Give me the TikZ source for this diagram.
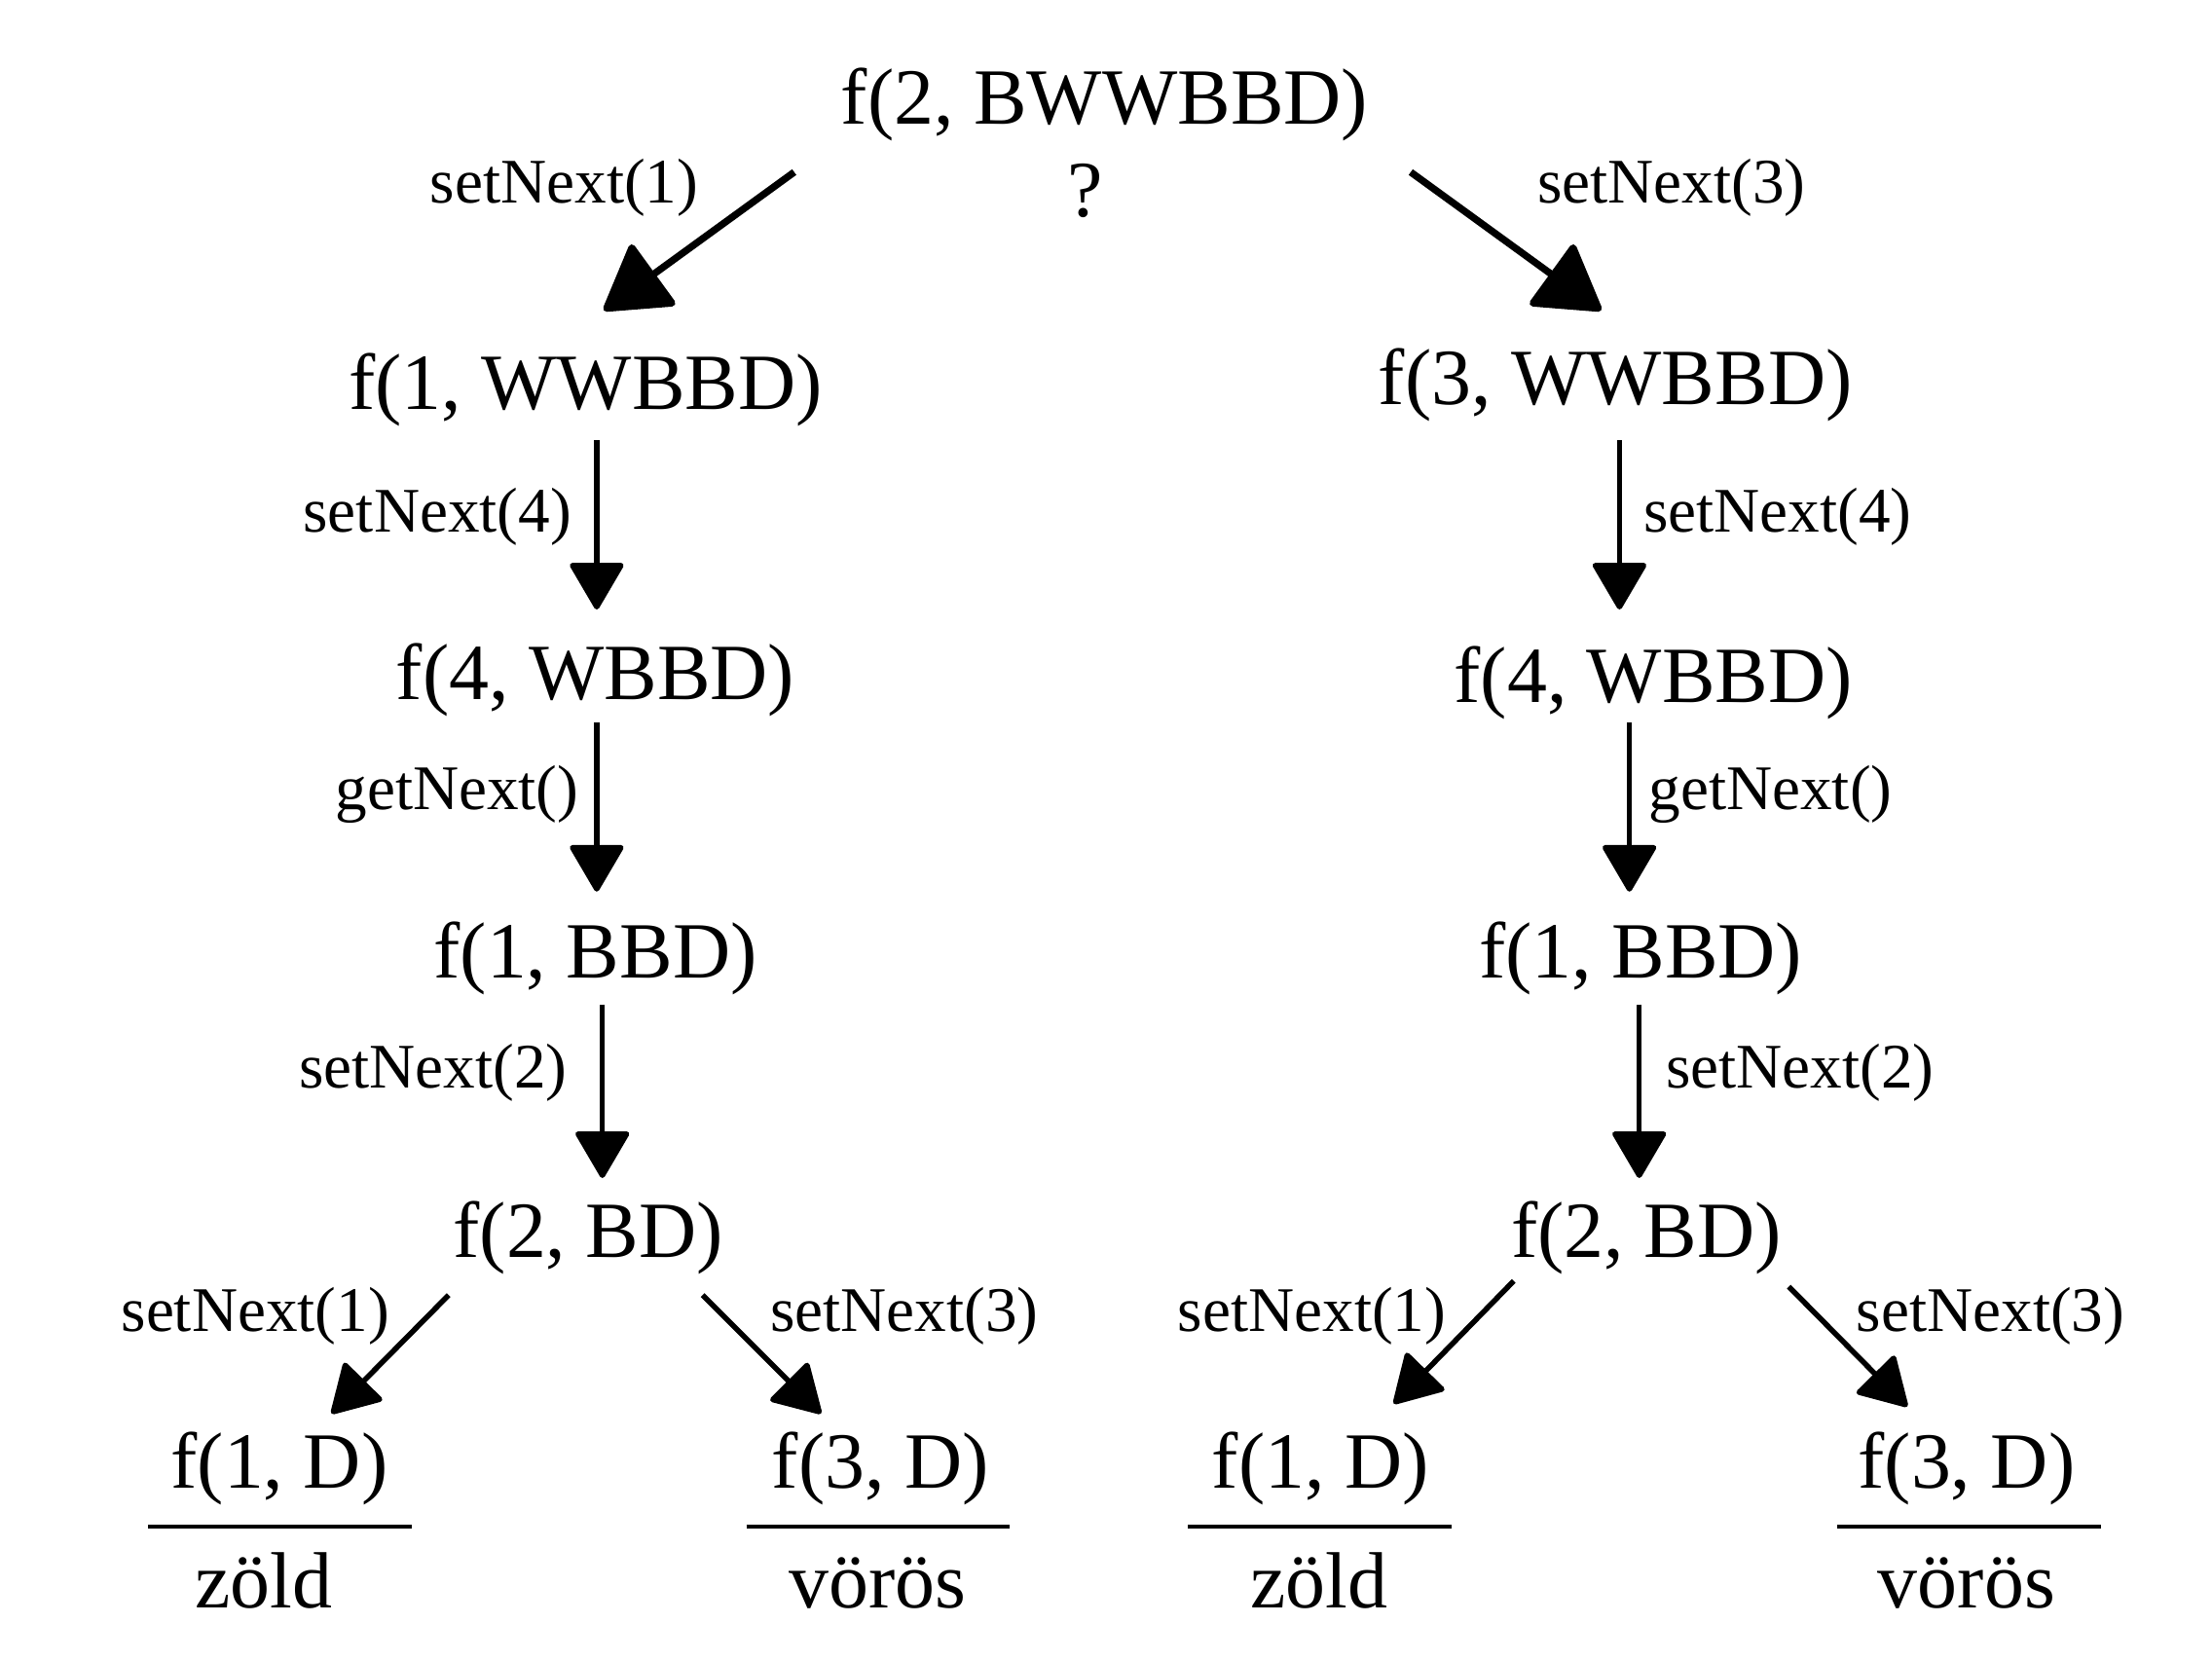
\documentclass[tikz,border=0pt]{standalone}
\usepackage{fontspec}
\setmainfont{Liberation Serif}
\usetikzlibrary{arrows.meta}
\begin{document}
\begin{tikzpicture}[x=1pt,y=-1pt,
  big/.style={anchor=base,inner sep=0pt,font=\fontsize{56.5pt}{60pt}\selectfont},
  lbl/.style={anchor=base,inner sep=0pt,font=\fontsize{45pt}{50pt}\selectfont},
  bigarrow/.style={line width=5pt,-{Triangle[length=47pt,width=56pt,round]}},
  arr/.style={line width=3.8pt,-{Triangle[length=35pt,width=40pt,round]}},
  rule/.style={line width=3pt}]
\useasboundingbox (0,0) rectangle (1568,1176);
% top
\node[big] (root) at (783,88) {f(2, BWWBBD)};
\node[big] (q) at (769.5,153.5) {?};
\node[lbl] (l0a) at (400,144) {setNext(1)};
\node[lbl] (l0b) at (1185,144) {setNext(3)};
% level 1
\node[big] (L1) at (415,290) {f(1, WWBBD)};
\node[big] (R1) at (1145,287) {f(3, WWBBD)};
\coordinate (r0s) at (563,122); \coordinate (r0e) at (428,220);
\coordinate (r1s) at (1000,122); \coordinate (r1e) at (1135,220);
\draw[bigarrow] (r0s) -- (r0e);
\draw[bigarrow] (r1s) -- (r1e);
% level 2
\node[lbl] (lL1) at (310,377) {setNext(4)};
\node[lbl] (lR1) at (1260,377) {setNext(4)};
\node[big] (L2) at (422,496) {f(4, WBBD)};
\node[big] (R2) at (1172,498) {f(4, WBBD)};
\coordinate (aL1s) at (423,312); \coordinate (aL1e) at (423,432);
\coordinate (aR1s) at (1148,312); \coordinate (aR1e) at (1148,432);
\draw[arr] (aL1s) -- (aL1e);
\draw[arr] (aR1s) -- (aR1e);
% level 3
\node[lbl] (lL2) at (324,574) {getNext()};
\node[lbl] (lR2) at (1255,574) {getNext()};
\node[big] (L3) at (422,693) {f(1, BBD)};
\node[big] (R3) at (1163,693) {f(1, BBD)};
\coordinate (aL2s) at (423,512); \coordinate (aL2e) at (423,632);
\coordinate (aR2s) at (1155,512); \coordinate (aR2e) at (1155,632);
\draw[arr] (aL2s) -- (aL2e);
\draw[arr] (aR2s) -- (aR2e);
% level 4
\node[lbl] (lL3) at (307,771) {setNext(2)};
\node[lbl] (lR3) at (1276,771) {setNext(2)};
\node[big] (L4) at (417,891) {f(2, BD)};
\node[big] (R4) at (1167,891) {f(2, BD)};
\coordinate (aL3s) at (427,712); \coordinate (aL3e) at (427,835);
\coordinate (aR3s) at (1162,712); \coordinate (aR3e) at (1162,835);
\draw[arr] (aL3s) -- (aL3e);
\draw[arr] (aR3s) -- (aR3e);
% leaves
\node[lbl] (lLL) at (181,944) {setNext(1)};
\node[lbl] (lLR) at (641,944) {setNext(3)};
\node[lbl] (lRL) at (930,944) {setNext(1)};
\node[lbl] (lRR) at (1411,944) {setNext(3)};
\coordinate (bLLs) at (318,918); \coordinate (bLLe) at (235,1002);
\coordinate (bLRs) at (498,918); \coordinate (bLRe) at (582,1002);
\coordinate (bRLs) at (1073,908); \coordinate (bRLe) at (988,995);
\coordinate (bRRs) at (1268,912); \coordinate (bRRe) at (1352,997);
\draw[arr] (bLLs) -- (bLLe);
\draw[arr] (bLRs) -- (bLRe);
\draw[arr] (bRLs) -- (bRLe);
\draw[arr] (bRRs) -- (bRRe);
\node[big] (LL) at (198,1055) {f(1, D)};
\node[big] (LR) at (624,1055) {f(3, D)};
\node[big] (RL) at (936,1055) {f(1, D)};
\node[big] (RR) at (1394,1055) {f(3, D)};
\coordinate (uLLa) at (105,1082); \coordinate (uLLb) at (292,1082);
\coordinate (uLRa) at (529,1082); \coordinate (uLRb) at (716,1082);
\coordinate (uRLa) at (842,1082); \coordinate (uRLb) at (1029,1082);
\coordinate (uRRa) at (1302,1082); \coordinate (uRRb) at (1489,1082);
\draw[rule] (uLLa) -- (uLLb);
\draw[rule] (uLRa) -- (uLRb);
\draw[rule] (uRLa) -- (uRLb);
\draw[rule] (uRRa) -- (uRRb);
\node[big] (zLL) at (187,1140) {zöld};
\node[big] (zLR) at (622,1140) {vörös};
\node[big] (zRL) at (935,1140) {zöld};
\node[big] (zRR) at (1394,1140) {vörös};
\end{tikzpicture}
\end{document}
